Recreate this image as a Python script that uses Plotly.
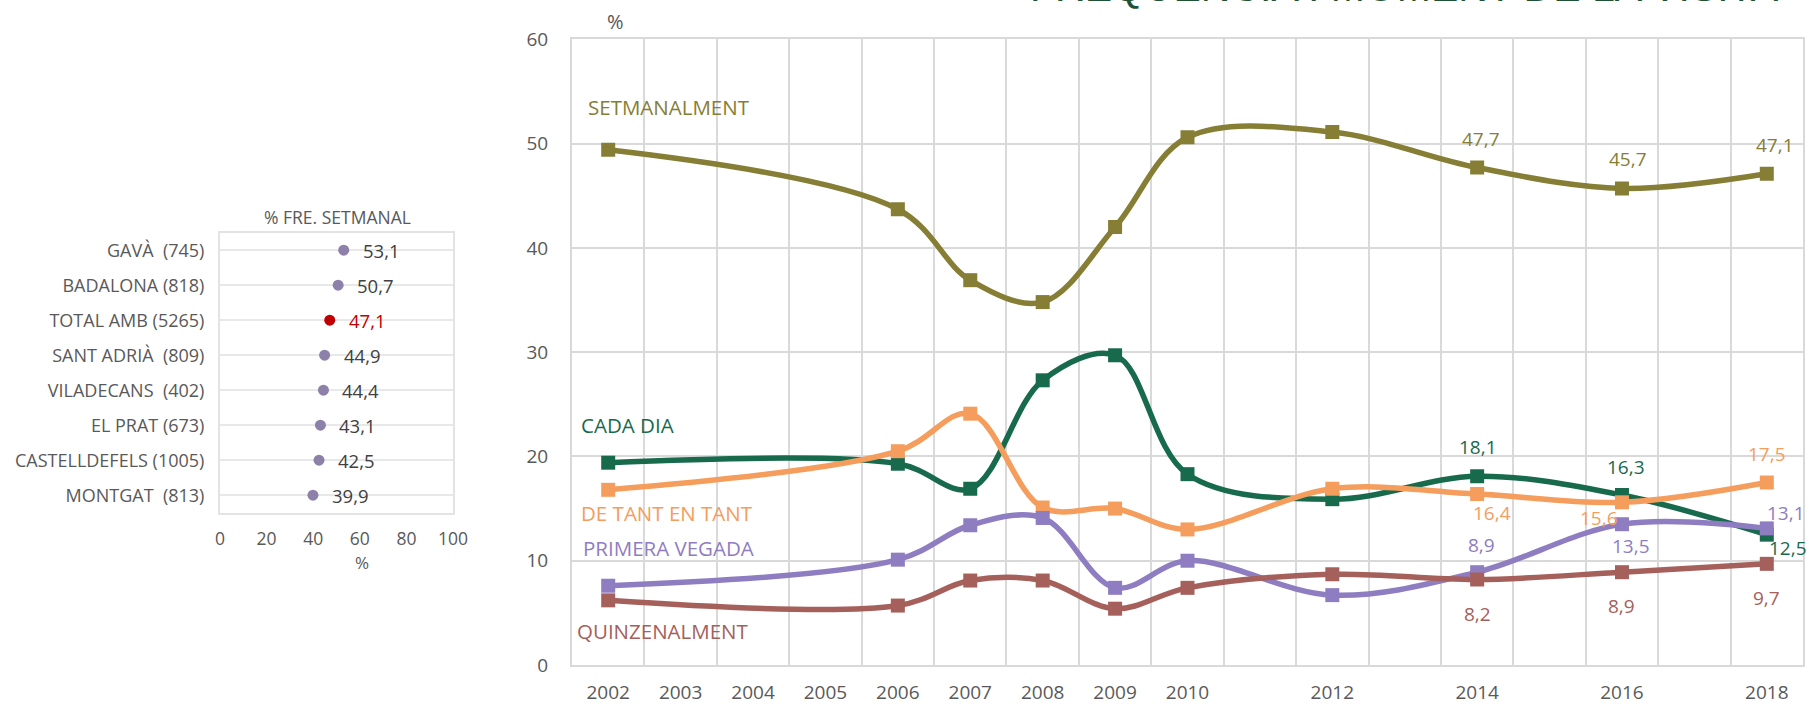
import plotly.graph_objects as go

# ---------------- DATA ----------------
years = [2002, 2006, 2007, 2008, 2009, 2010, 2012, 2014, 2016, 2018]
setmanalment = [49.4, 43.7, 36.9, 34.8, 42.0, 50.6, 51.1, 47.7, 45.7, 47.1]
cada_dia = [19.4, 19.3, 16.9, 27.3, 29.7, 18.3, 15.9, 18.1, 16.3, 12.5]
de_tant_en_tant = [16.8, 20.5, 24.1, 15.1, 15.0, 13.0, 16.9, 16.4, 15.6, 17.5]
primera_vegada = [7.6, 10.1, 13.4, 14.1, 7.4, 10.0, 6.7, 8.9, 13.5, 13.1]
quinzenalment = [6.2, 5.7, 8.1, 8.1, 5.4, 7.4, 8.7, 8.2, 8.9, 9.7]

tick_years = [2002, 2003, 2004, 2005, 2006, 2007, 2008, 2009, 2010, 2012, 2014, 2016, 2018]
all_years = list(range(2002, 2019))
y_ticks = [0, 10, 20, 30, 40, 50, 60]

municipis = ["GAVÀ\u00a0 (745)", "BADALONA (818)", "TOTAL AMB (5265)", "SANT ADRIÀ\u00a0 (809)",
             "VILADECANS\u00a0 (402)", "EL PRAT (673)", "CASTELLDEFELS (1005)", "MONTGAT\u00a0 (813)"]
pct_setmanal = [53.1, 50.7, 47.1, 44.9, 44.4, 43.1, 42.5, 39.9]
left_ticks = [0, 20, 40, 60, 80, 100]

# ---------------- STYLE ----------------
W, H = 1812, 706
FONT = "Open Sans"
GRAY = "#595959"
GRID = "#d9d9d9"

series = [
    ("SETMANALMENT", setmanalment, "#857e34", (-22, 53.5),
     [(4, 29), (6, 29), (8, 29)]),
    ("CADA DIA", cada_dia, "#176a4c", (-29, 23.0),
     [(1, 29), (4, 28), (21, -13)]),
    ("DE TANT EN TANT", de_tant_en_tant, "#f49d5c", (-29, 14.6),
     [(15, -19), (-23, -16), (0, 29)]),
    ("PRIMERA VEGADA", primera_vegada, "#8f7dc1", (-27, 11.2),
     [(4, 27), (9, -22), (19, 15)]),
    ("QUINZENALMENT", quinzenalment, "#a5605b", (-33, 3.3),
     [(0, -35), (0, -34), (0, -34)]),
]


def fmt(v):
    return f"{v:.1f}".replace(".", ",")


fig = go.Figure()
annotations = []

for name, vals, color, (lx, ly), offs in series:
    fig.add_trace(go.Scatter(
        x=years, y=vals, mode="lines+markers", name=name,
        line=dict(color=color, width=5.5, shape="spline", smoothing=1.0),
        marker=dict(symbol="square", size=14, color=color),
        xaxis="x", yaxis="y", showlegend=False, hoverinfo="skip"))
    annotations.append(dict(
        x=years[0], y=ly, xref="x", yref="y", xshift=lx, text=name,
        showarrow=False, xanchor="left", yanchor="middle",
        font=dict(family=FONT, size=20.5, color=color)))
    for (dx, dy), idx in zip(offs, [-3, -2, -1]):
        annotations.append(dict(
            x=years[idx], y=vals[idx], xref="x", yref="y",
            xshift=dx, yshift=dy, text=fmt(vals[idx]), showarrow=False,
            xanchor="center", yanchor="middle",
            font=dict(family=FONT, size=19, color=color)))

# Left dot chart
dot_colors = ["#c00000" if m.startswith("TOTAL") else "#8d80a9" for m in municipis]
lab_colors = ["#c00000" if m.startswith("TOTAL") else "#404040" for m in municipis]
fig.add_trace(go.Scatter(
    x=pct_setmanal, y=municipis, mode="markers",
    marker=dict(size=11, color=dot_colors),
    xaxis="x2", yaxis="y2", showlegend=False, hoverinfo="skip"))
for v, m, c in zip(pct_setmanal, municipis, lab_colors):
    annotations.append(dict(
        x=v, y=m, xref="x2", yref="y2", xshift=17, text=fmt(v),
        showarrow=False, xanchor="left", yanchor="middle",
        font=dict(family=FONT, size=18.5, color=c)))

annotations += [
    dict(x=337 / W, y=1 - 216.7 / H, xref="paper", yref="paper", text="% FRE. SETMANAL",
         showarrow=False, xanchor="center", yanchor="middle",
         font=dict(family=FONT, size=17.5, color=GRAY)),
    dict(x=361.7 / W, y=1 - 562.5 / H, xref="paper", yref="paper", text="%",
         showarrow=False, xanchor="center", yanchor="middle", borderpad=0,
         font=dict(family=FONT, size=17, color=GRAY)),
    dict(x=615 / W, y=1 - 22 / H, xref="paper", yref="paper", text="%",
         showarrow=False, xanchor="center", yanchor="middle",
         font=dict(family=FONT, size=20, color=GRAY)),
    dict(x=1028 / W, y=1 - 11.5 / H, xref="paper", yref="paper",
         text="FREQÜÈNCIA I MOMENT DE LA VISITA",
         showarrow=False, xanchor="left", yanchor="bottom",
         font=dict(family="Liberation Sans", size=41, color="#1f5235")),
]

fig.update_layout(
    width=W, height=H, margin=dict(l=0, r=0, t=0, b=0),
    paper_bgcolor="white", plot_bgcolor="white",
    font=dict(family=FONT, color=GRAY),
    annotations=annotations,
    xaxis=dict(
        domain=[572 / W, 1803 / W], range=[2001.5, 2018.5],
        tickmode="array", tickvals=tick_years, ticktext=[str(y) for y in tick_years],
        showgrid=False, zeroline=False, ticks="", ticklabelstandoff=9,
        tickfont=dict(family=FONT, size=19, color=GRAY),
        showline=True, linecolor=GRID, linewidth=2, mirror=True,
        minor=dict(tickmode="array", tickvals=[y - 0.5 for y in all_years] + [2018.5],
                   showgrid=True, gridcolor=GRID, gridwidth=2, ticklen=0),
        anchor="y", automargin=False,
    ),
    yaxis=dict(
        domain=[1 - 665 / H, 1 - 39.3 / H], range=[0, 60],
        tickmode="array", tickvals=y_ticks,
        showgrid=True, gridcolor=GRID, gridwidth=2, zeroline=False,
        ticks="", ticklabelstandoff=18,
        tickfont=dict(family=FONT, size=19, color=GRAY),
        showline=True, linecolor=GRID, linewidth=2, mirror=True,
        anchor="x", automargin=False,
    ),
    xaxis2=dict(
        domain=[220 / W, 453 / W], range=[0, 100],
        tickmode="array", tickvals=left_ticks,
        showgrid=False, zeroline=False, ticks="", ticklabelstandoff=9,
        tickfont=dict(family=FONT, size=17.5, color=GRAY),
        showline=True, linecolor="#e3e3e3", linewidth=2, mirror=True,
        anchor="y2", automargin=False,
    ),
    yaxis2=dict(
        domain=[1 - 512.7 / H, 1 - 232.7 / H],
        type="category", categoryarray=municipis, categoryorder="array",
        range=[7.5, -0.5],
        showgrid=True, gridcolor="#e8e8e8", gridwidth=2, zeroline=False,
        ticks="", ticklabelstandoff=10,
        tickfont=dict(family=FONT, size=18, color=GRAY),
        showline=True, linecolor="#e3e3e3", linewidth=2, mirror=True,
        anchor="x2", automargin=False,
    ),
)

fig.write_html("out.html", config={"displayModeBar": False},
               post_script="document.body.style.margin='0';document.body.style.overflow='hidden';")
